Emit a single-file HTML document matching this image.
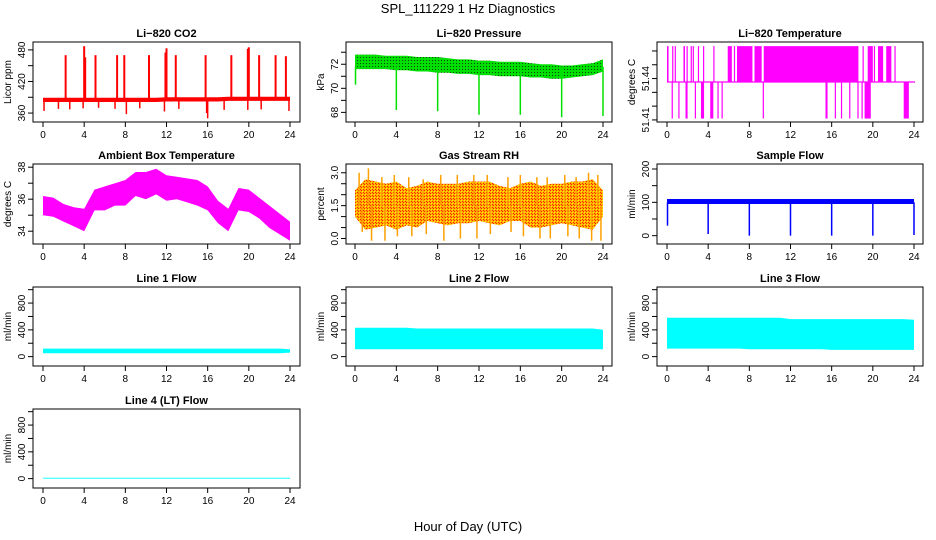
<!DOCTYPE html>
<html><head><meta charset="utf-8">
<style>
html,body{margin:0;padding:0;background:#fff;}
svg{display:block;font-family:"Liberation Sans",sans-serif;}
</style></head>
<body>
<svg id="chart" width="936" height="540" viewBox="0 0 936 540" xmlns="http://www.w3.org/2000/svg">
<defs>
<pattern id="rhpat" width="3" height="3" patternUnits="userSpaceOnUse">
<rect width="3" height="3" fill="#ffb000"/><rect width="1" height="1" fill="#ff2000"/><rect x="1" y="1" width="1" height="1" fill="#ff2000"/><rect x="2" y="2" width="1" height="1" fill="#ffee00"/>
</pattern>
<pattern id="prpat" width="3" height="3" patternUnits="userSpaceOnUse">
<rect width="3" height="3" fill="#00e000"/><rect width="1" height="1" fill="#104010"/>
</pattern>
</defs>
<text x="468" y="13" text-anchor="middle" font-size="13">SPL_111229  1 Hz Diagnostics</text>
<text x="468" y="531" text-anchor="middle" font-size="13">Hour of Day (UTC)</text>
</svg>
<script>
// ---- shared x data ----
const xTicks = [0, 4, 8, 12, 16, 20, 24];
const hours = [0,1,2,3,4,5,6,7,8,9,10,11,12,13,14,15,16,17,18,19,20,21,22,23,24];

// ---- CO2 ----
const co2BaseMin = [381,381,381,381,381,381,381,381,381,381,381,381,382,382,382,382,382,382,383,383,383,383,383,383,383];
const co2BaseMax = [389,389,389,389,389,389,389,389,389,389,389,389,390,390,390,390,390,390,391,391,391,391,391,391,391];
const co2SpikeTimes = [2.2,4.0,4.1,5.1,7.2,7.9,10.3,11.9,12.0,12.9,15.8,18.3,19.9,20.0,21.0,22.6,23.6];
const co2SpikeVals = [470,487,466,470,470,470,470,475,483,470,470,470,482,485,470,470,468];
const co2DipTimes = [0.1,1.5,2.6,3.9,5.4,7.0,8.1,9.4,11.8,13.2,15.9,16.0,17.6,19.9,21.2,23.9];
const co2DipVals = [364,368,367,369,370,368,358,369,363,368,360,350,366,366,367,364];
const co2Ticks = [360, 420, 480];

// ---- Pressure ----
const presMin = [71.6,71.6,71.6,71.6,71.5,71.5,71.4,71.4,71.3,71.3,71.2,71.2,71.1,71.1,71.0,71.0,71.0,70.9,70.9,70.8,70.8,70.9,71.0,71.1,71.4];
const presMax = [72.8,72.8,72.8,72.7,72.7,72.7,72.6,72.6,72.6,72.5,72.4,72.4,72.3,72.3,72.2,72.2,72.2,72.1,72.0,72.0,71.9,71.9,72.0,72.1,72.4];
const presDipTimes = [0.05,4.0,8.0,12.0,16.0,20.0,24.0];
const presDipVals = [70.3,68.2,68.1,67.8,67.8,67.6,67.7];
const presTicks = [68, 70, 72];
const presMinorTicks = [69, 71, 73];

// ---- Li-820 Temperature ----
const tempLevels = [51.411, 51.4375, 51.4635];
const tempUpBlocks = [[0,0.15],[0.5,0.6],[0.75,0.85],[1.6,1.75],[1.9,2.0],[2.3,2.4],[2.5,2.55],[3.0,3.05],[3.5,3.6],[4.5,4.6],[5.9,6.3],[6.5,6.6],[6.8,8.3],[8.5,9.2],[9.4,18.6],[19.0,19.1],[19.5,20.0],[20.1,20.2],[20.5,21.0],[21.3,21.8],[22.1,22.2]];
const tempDownBlocks = [[0.45,0.5],[1.1,1.15],[1.8,2.0],[2.7,2.8],[3.3,3.6],[4.2,4.5],[4.9,5.0],[5.3,5.35],[9.3,9.35],[15.4,15.6],[16.3,16.35],[16.9,17.0],[17.7,17.8],[18.5,18.6],[18.9,19.0],[19.2,19.8],[23.0,23.5]];
const tempTicks = [51.41, 51.44];
const tempMinorTicks = [51.42, 51.43, 51.45, 51.46];

// ---- Ambient Box Temperature ----
const ambMin = [35.0,34.9,34.6,34.3,34.0,35.3,35.3,35.6,35.6,36.2,36.0,36.3,35.9,36.0,35.8,35.6,35.3,34.5,34.0,35.3,35.2,34.8,34.2,33.8,33.4];
const ambMax = [36.2,36.1,35.7,35.5,35.4,36.6,36.8,37.0,37.2,37.7,37.7,37.9,37.5,37.4,37.3,37.2,36.8,35.9,35.4,36.7,36.6,36.1,35.6,35.1,34.6];
const ambTicks = [34, 36, 38];
const ambMinorTicks = [35, 37];

// ---- Gas Stream RH ----
const rhMin = [1.0,0.4,0.5,0.6,0.4,0.6,0.5,0.8,0.7,0.6,0.7,0.7,0.8,0.7,0.6,0.8,0.8,0.5,0.5,0.6,0.7,0.6,0.5,0.4,1.0];
const rhMax = [2.2,2.7,2.6,2.5,2.6,2.3,2.4,2.6,2.5,2.5,2.5,2.6,2.6,2.6,2.4,2.3,2.5,2.6,2.4,2.5,2.5,2.6,2.6,2.7,2.2];
const rhSpikeTimes = [0.4,1.3,2.6,3.8,5.2,6.6,8.3,9.9,11.5,12.8,14.8,16.0,17.6,18.6,20.3,21.4,22.6,23.5];
const rhSpikeHi = [3.0,3.2,2.8,2.9,2.8,2.7,2.9,2.9,2.9,2.9,2.8,2.9,2.8,2.8,2.9,2.8,3.0,2.9];
const rhSpikeLo = [0.3,-0.1,-0.1,0.1,0.1,0.2,-0.1,0.0,0.0,0.2,0.3,0.1,0.0,0.0,0.1,0.0,-0.1,-0.1];
const rhTicks = [0.0, 1.5, 3.0];
const rhMinorTicks = [0.5, 1.0, 2.0, 2.5];

// ---- Sample Flow ----
const sfMin = [95,95,95,95,95,95,95,95,95,95,95,95,95,95,95,95,95,95,95,95,95,95,95,95,95];
const sfMax = [110,110,110,110,110,110,110,110,110,110,110,110,110,110,110,110,110,110,110,110,110,110,110,110,110];
const sfDipTimes = [0.05,4.0,8.0,12.0,16.0,20.0,24.0];
const sfDipVals = [30,5,0,0,0,0,2];
const sfTicks = [0, 100, 200];

// ---- Line flows ----
const l1Min = [50,50,50,50,50,50,50,50,50,50,50,50,50,50,50,50,50,50,50,50,50,50,50,50,60];
const l1Max = [120,120,120,120,120,120,120,120,120,120,120,120,120,120,120,120,120,120,120,120,120,120,120,120,110];
const l2Min = [110,110,110,110,110,110,110,110,110,110,110,110,110,110,110,110,110,110,110,110,110,110,110,110,110];
const l2Max = [430,430,430,430,430,430,420,420,420,420,420,420,420,420,420,420,420,420,420,420,420,420,420,420,400];
const l3Min = [120,120,120,120,120,120,120,120,110,110,110,110,110,110,110,110,100,100,100,100,100,100,100,100,100];
const l3Max = [580,580,580,580,580,580,580,580,580,580,580,580,560,560,560,560,560,560,560,560,560,560,560,560,550];
const l4Min = [0,0,0,0,0,0,0,0,0,0,0,0,0,0,0,0,0,0,0,0,0,0,0,0,0];
const l4Max = [12,12,12,12,12,12,12,12,12,12,12,12,12,12,12,12,12,12,12,12,12,12,12,12,12];
const flowTicks = [0, 400, 800];
const flowMinorTicks = [200, 600, 1000];

const NS = 'http://www.w3.org/2000/svg';
const svg = document.getElementById('chart');
const cols = [{l:33,r:300,x0:43,x24:290},{l:346,r:612,x0:355,x24:603},{l:657,r:923,x0:667,x24:914}];
const rows = [{t:42,b:122},{t:164,b:244},{t:287,b:366},{t:409,b:488}];

function mk(tag, attrs, parent){
  const e = document.createElementNS(NS, tag);
  for (const k in attrs) e.setAttribute(k, attrs[k]);
  (parent||svg).appendChild(e);
  return e;
}

function panel(ci, ri, name, title, ylab, ylim, ticks, minor){
  const c = cols[ci], r = rows[ri];
  const g = mk('g', {});
  
  
  const xs = h => c.x0 + (c.x24 - c.x0) * h / 24;
  const ys = v => r.b - (v - ylim[0]) / (ylim[1] - ylim[0]) * (r.b - r.t);
  const t = mk('text', {x:(c.l+c.r)/2, y:r.t-5, 'text-anchor':'middle', 'font-size':11, 'font-weight':'bold'}, g);
  t.textContent = title;
  
  
  const yl = mk('text', {transform:`translate(${c.l-22},${(r.t+r.b)/2}) rotate(-90)`, 'text-anchor':'middle', 'font-size':10}, g);
  yl.textContent = ylab;
  
  
  const plot = mk('g', {}, g);
  
  
  const box = mk('rect', {x:c.l, y:r.t, width:c.r-c.l, height:r.b-r.t, fill:'none', stroke:'#000', 'stroke-width':1}, g);
  
  
  xTicks.forEach(h => {
    mk('line', {x1:xs(h), x2:xs(h), y1:r.b, y2:r.b+5, stroke:'#000'}, g);
    const tl = mk('text', {x:xs(h), y:r.b+16, 'text-anchor':'middle', 'font-size':10}, g);
    tl.textContent = h;
    
    
  });
  ticks.forEach(v => {
    if (ys(v) < r.t - 2 || ys(v) > r.b + 2) return;
    mk('line', {x1:c.l-5, x2:c.l, y1:ys(v), y2:ys(v), stroke:'#000'}, g);
    const tl = mk('text', {transform:`translate(${c.l-8},${ys(v)}) rotate(-90)`, 'text-anchor':'middle', 'font-size':10}, g);
    tl.textContent = (name==='rh') ? v.toFixed(1) : v;
    
    
  });
  (minor||[]).forEach(v => {
    if (ys(v) < r.t - 2 || ys(v) > r.b + 2) return;
    mk('line', {x1:c.l-5, x2:c.l, y1:ys(v), y2:ys(v), stroke:'#000'}, g);
  });
  return {g:plot, xs, ys, r, c};
}

function band(p, mins, maxs, fill){
  let d = '';
  hours.forEach((h,i) => { d += (i ? 'L' : 'M') + p.xs(h).toFixed(1) + ',' + p.ys(maxs[i]).toFixed(1); });
  for (let i = hours.length-1; i >= 0; i--) d += 'L' + p.xs(hours[i]).toFixed(1) + ',' + p.ys(mins[i]).toFixed(1);
  const e = mk('path', {d: d + 'Z', fill: fill, stroke: 'none'}, p.g);
  
  
  return e;
}
function vlines(p, times, from, to, color, w){
  times.forEach((t,i) => {
    const a = Array.isArray(from) ? from[i] : from;
    const b = Array.isArray(to) ? to[i] : to;
    const e = mk('line', {x1:p.xs(t), x2:p.xs(t), y1:p.ys(a), y2:p.ys(b), stroke:color, 'stroke-width':w||1.5}, p.g);
    
    
  });
}

let p = panel(0,0,'co2','Li\u2212820 CO2','Licor ppm',[343,495],co2Ticks,[390,450]);
band(p, co2BaseMin, co2BaseMax, '#ff0000');
vlines(p, co2SpikeTimes, 386, co2SpikeVals, '#ff0000', 2);
vlines(p, co2DipTimes, 384, co2DipVals, '#ff0000', 1.5);

p = panel(1,0,'pressure','Li\u2212820 Pressure','kPa',[67.2,73.85],presTicks,presMinorTicks);
band(p, presMin, presMax, 'url(#prpat)');
vlines(p, presDipTimes, 71.8, presDipVals, '#00e000', 1.5);

p = panel(2,0,'li820-temp','Li\u2212820 Temperature','degrees C',[51.4085,51.4665],tempTicks,tempMinorTicks);
{
  const m = mk('line', {x1:p.xs(0), x2:p.xs(24.1), y1:p.ys(tempLevels[1]), y2:p.ys(tempLevels[1]), stroke:'#ff00ff', 'stroke-width':1.2}, p.g);
  
  
  tempUpBlocks.forEach(bk => {
    const e = mk('rect', {x:p.xs(bk[0]), y:p.ys(tempLevels[2]), width:Math.max(1.2, p.xs(bk[1])-p.xs(bk[0])), height:p.ys(tempLevels[1])-p.ys(tempLevels[2]), fill:'#ff00ff'}, p.g);
    
    
  });
  tempDownBlocks.forEach(bk => {
    const e = mk('rect', {x:p.xs(bk[0]), y:p.ys(tempLevels[1]), width:Math.max(1.2, p.xs(bk[1])-p.xs(bk[0])), height:p.ys(tempLevels[0])-p.ys(tempLevels[1]), fill:'#ff00ff'}, p.g);
    
    
  });
}

p = panel(0,1,'ambient-temp','Ambient Box Temperature','degrees C',[33.2,38.2],ambTicks,ambMinorTicks);
band(p, ambMin, ambMax, '#ff00ff');

p = panel(1,1,'rh','Gas Stream RH','percent',[-0.25,3.4],rhTicks,rhMinorTicks);
band(p, rhMin, rhMax, 'url(#rhpat)');
vlines(p, rhSpikeTimes, 1.5, rhSpikeHi, '#ffa000', 1.5);
vlines(p, rhSpikeTimes.map(t=>t+0.3), 1.5, rhSpikeLo, '#ffa000', 1.5);

p = panel(2,1,'sample-flow','Sample Flow','ml/min',[-25,215],sfTicks,[50,150]);
band(p, sfMin, sfMax, '#0000ff');
vlines(p, sfDipTimes, 100, sfDipVals, '#0000ff', 1.5);

const flowLim = [-140, 1040];
p = panel(0,2,'line1-flow','Line 1 Flow','ml/min',flowLim,flowTicks,flowMinorTicks);
band(p, l1Min, l1Max, '#00ffff');
p = panel(1,2,'line2-flow','Line 2 Flow','ml/min',flowLim,flowTicks,flowMinorTicks);
band(p, l2Min, l2Max, '#00ffff');
p = panel(2,2,'line3-flow','Line 3 Flow','ml/min',flowLim,flowTicks,flowMinorTicks);
band(p, l3Min, l3Max, '#00ffff');
p = panel(0,3,'line4-flow','Line 4 (LT) Flow','ml/min',flowLim,flowTicks,flowMinorTicks);
band(p, l4Min, l4Max, '#00ffff');
</script>
</body></html>
